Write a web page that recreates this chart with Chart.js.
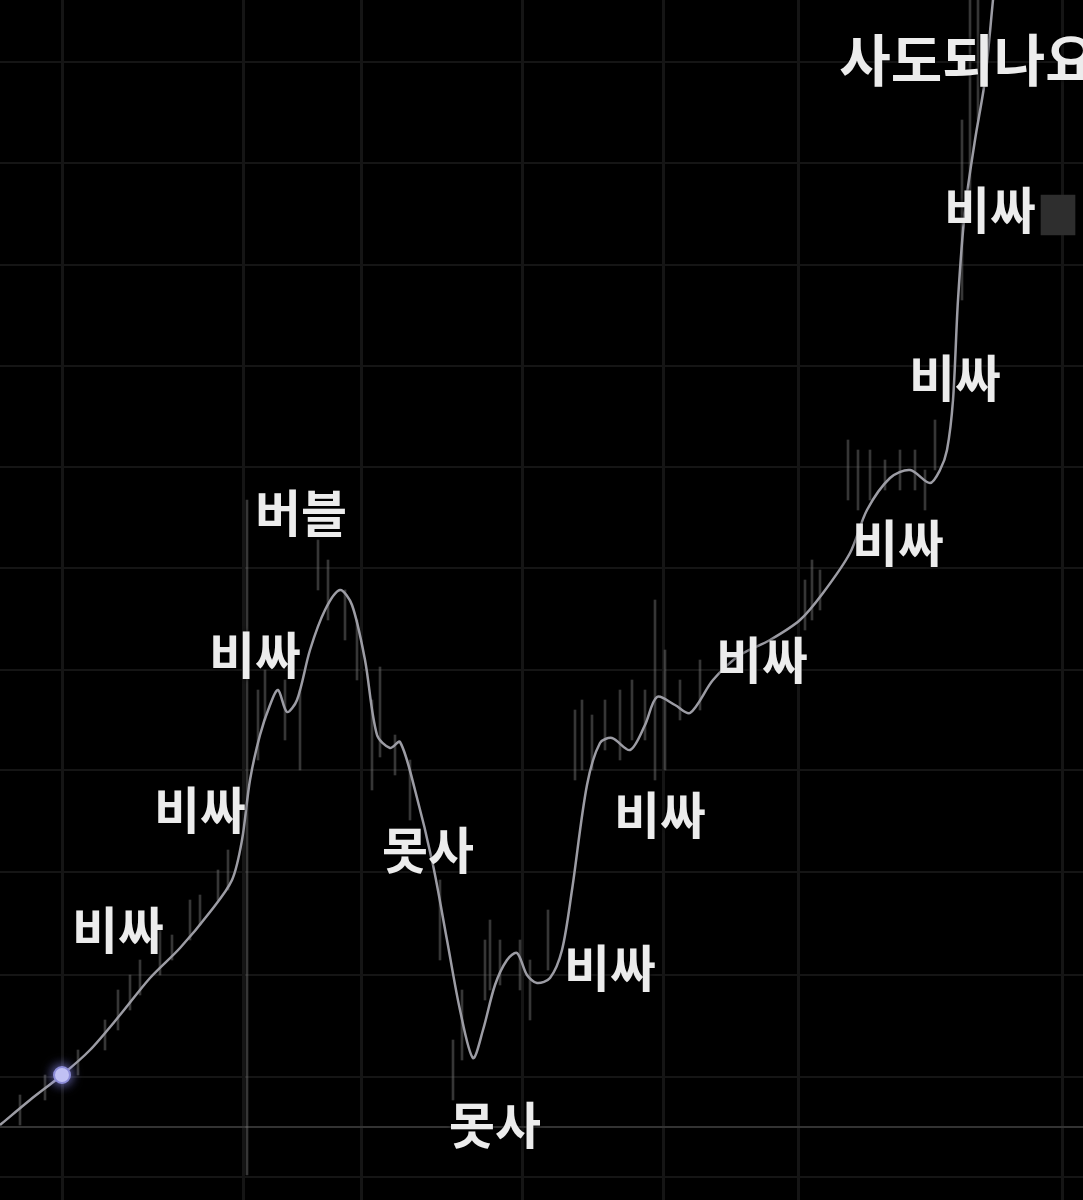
<!DOCTYPE html>
<html>
<head>
<meta charset="utf-8">
<script src="https://cdn.jsdelivr.net/npm/chart.js@4"></script>
<style>
  html, body { margin: 0; padding: 0; background: #000; }
  #wrap { width: 1083px; height: 1200px; position: relative; }
</style>
</head>
<body>
<div id="wrap"><canvas id="c"></canvas></div>
<script>
// ---- data (x = time index, y = price level) ----
const lineX = [0,30,62,90,120,150,180,210,232,242,250,260,270,278,287,297,310,325,340,352,365,377,390,400,415,433,447,460,473,483,495,507,517,527,537,550,562,572,587,600,612,630,645,657,675,690,713,740,770,800,823,850,867,890,910,930,940,947,953,958,965,975,985,993];
const lineY = [75,100,125,150,185,222,252,288,320,360,420,465,495,510,488,500,550,590,610,595,540,465,452,458,410,335,260,190,142,170,215,240,247,225,217,222,250,310,415,457,462,450,475,503,495,487,520,545,560,580,607,647,690,722,730,717,730,750,800,900,990,1060,1120,1200];

const wickX    = [20,45,78,105,118,130,140,160,172,190,200,218,228,247,258,265,285,300,318,328,345,357,372,380,395,410,440,453,462,485,490,500,520,530,548,575,582,592,605,620,632,645,655,665,680,700,805,812,820,848,858,870,885,900,915,925,935,962,970,978];
const wickHigh = [105,125,150,180,210,225,240,270,265,300,305,330,350,700,510,530,520,510,660,640,610,580,500,533,465,440,320,160,210,260,280,260,260,240,290,490,500,485,500,510,520,510,600,550,520,540,620,640,630,760,750,750,740,750,750,730,780,1080,1200,1200];
const wickLow  = [75,100,125,150,170,190,205,225,240,260,275,300,310,25,440,480,460,430,610,580,560,520,410,443,425,380,240,100,140,200,210,215,210,180,230,420,430,430,450,440,460,460,420,430,480,490,570,580,590,700,690,700,710,710,710,690,730,900,1000,1080];

const dotX = [62];
const dotY = [125];

const tagX = [1058];
const tagLow = [965];
const tagHigh = [1005];

const gridXValues = [62,243,362,522,663,798,1062];
const gridYValues = [23,73,123,225,328,430,530,632,733,834,935,1037,1138];
const axisLineValue = 73;

const labelTexts = ["비싸","비싸","비싸","버블","못사","못사","비싸","비싸","비싸","비싸","비싸","비싸","사도되나요"];
const labelX     = [118,200,255,301,428,495,610,660,762,898,955,990,968];
const labelY     = [270,390,545,687,350,75,232,385,540,657,822,990,1140];

// ---- styles ----
const labelFontSizes = { "사도되나요": 56 };
const defaultLabelSize = 50;

const labelPlugin = {
  id: 'labels',
  afterDatasetsDraw(chart) {
    const { ctx, scales: { x, y } } = chart;
    ctx.save();
    ctx.textAlign = 'center';
    ctx.textBaseline = 'middle';
    labelTexts.forEach((t, i) => {
      const size = labelFontSizes[t] || defaultLabelSize;
      ctx.font = `bold ${size}px "Noto Sans CJK KR", "Noto Sans", sans-serif`;
      ctx.shadowColor = 'rgba(0,0,0,0.9)';
      ctx.shadowBlur = 4;
      ctx.fillStyle = '#ececec';
      ctx.fillText(t, x.getPixelForValue(labelX[i]), y.getPixelForValue(labelY[i]));
    });
    ctx.restore();
  }
};

const bgPlugin = {
  id: 'bg',
  beforeDraw(chart) {
    const { ctx, width, height } = chart;
    ctx.save();
    ctx.fillStyle = '#000';
    ctx.fillRect(0, 0, width, height);
    ctx.restore();
  }
};

const glowPlugin = {
  id: 'glow',
  beforeDatasetDraw(chart, args) {
    if (args.meta.type === 'scatter') {
      chart.ctx.save();
      chart.ctx.shadowColor = 'rgba(150,150,255,0.9)';
      chart.ctx.shadowBlur = 12;
    }
  },
  afterDatasetDraw(chart, args) {
    if (args.meta.type === 'scatter') chart.ctx.restore();
  }
};

new Chart(document.getElementById('c'), {
  data: {
    datasets: [
      {
        type: 'bar',
        data: wickX.map((v, i) => ({ x: v, y: [wickLow[i], wickHigh[i]] })),
        backgroundColor: 'rgba(120,120,120,0.45)',
        barThickness: 2,
        grouped: false,
        order: 3
      },
      {
        type: 'bar',
        data: tagX.map((v, i) => ({ x: v, y: [tagLow[i], tagHigh[i]] })),
        backgroundColor: '#2e2e2e',
        barThickness: 34,
        grouped: false,
        order: 4
      },
      {
        type: 'line',
        data: lineX.map((v, i) => ({ x: v, y: lineY[i] })),
        borderColor: '#9c9ca4',
        borderWidth: 2.5,
        pointRadius: 0,
        tension: 0.3,
        order: 2
      },
      {
        type: 'scatter',
        data: dotX.map((v, i) => ({ x: v, y: dotY[i] })),
        backgroundColor: '#c9c9f2',
        borderColor: '#8c8cd8',
        borderWidth: 2,
        pointRadius: 8,
        order: 1
      }
    ]
  },
  options: {
    responsive: true,
    maintainAspectRatio: false,
    animation: false,
    layout: { padding: 0, autoPadding: false },
    plugins: { legend: { display: false }, tooltip: { enabled: false } },
    scales: {
      x: {
        type: 'linear', min: 0, max: 1083, offset: false,
        afterBuildTicks: ax => { ax.ticks = gridXValues.map(v => ({ value: v })); },
        ticks: { display: false, padding: 0 },
        grid: { color: '#151515', lineWidth: 3, drawTicks: false, tickLength: 0, offset: false },
        border: { display: false }
      },
      y: {
        type: 'linear', min: 0, max: 1200,
        afterBuildTicks: ax => { ax.ticks = gridYValues.map(v => ({ value: v })); },
        ticks: { display: false, padding: 0 },
        grid: {
          color: c => c.tick && c.tick.value === axisLineValue ? '#333333' : '#151515',
          lineWidth: 2,
          drawTicks: false, tickLength: 0
        },
        border: { display: false }
      }
    }
  },
  plugins: [bgPlugin, glowPlugin, labelPlugin]
});
</script>
</body>
</html>
